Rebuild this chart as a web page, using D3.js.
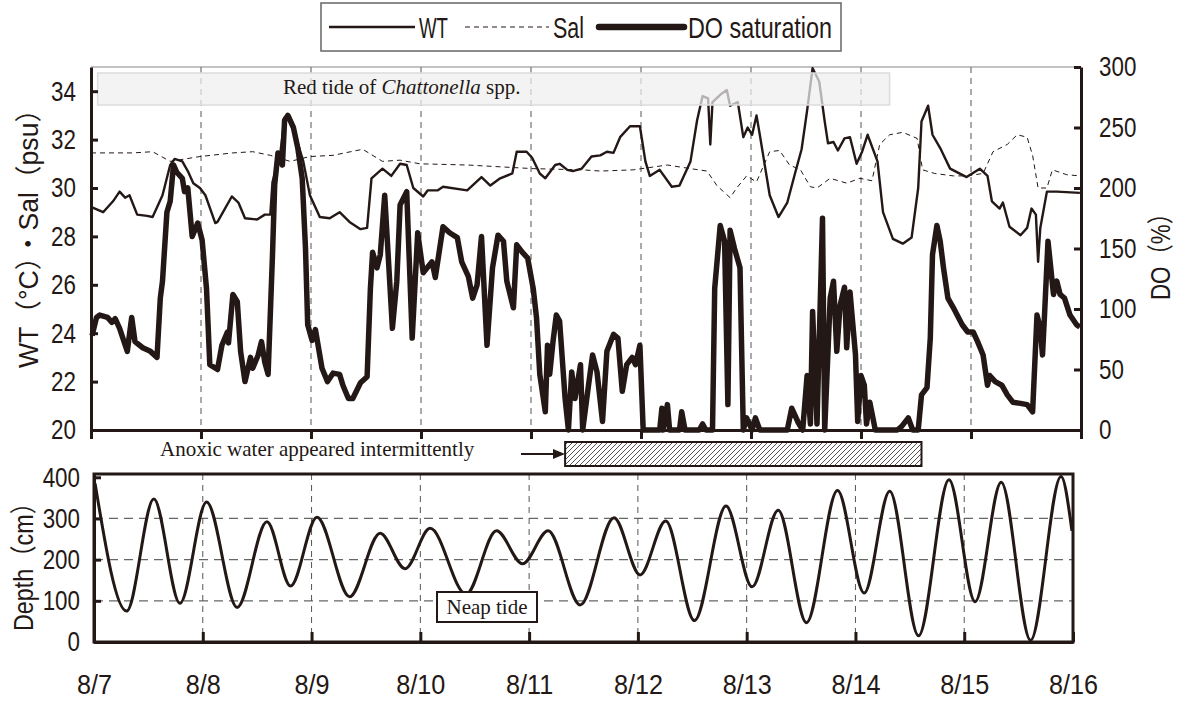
<!DOCTYPE html>
<html>
<head>
<meta charset="utf-8">
<script src="https://cdn.jsdelivr.net/npm/d3@7"></script>
<style>
  body { margin: 0; background: #fff; }
  svg { display: block; }
</style>
</head>
<body>
<div id="chart"></div>
<script>
// day labels (index 0 = 8/7 00:00)
const days = ['8/7', '8/8', '8/9', '8/10', '8/11', '8/12', '8/13', '8/14', '8/15', '8/16'];

// water temperature [day, degC]
const wtData = [
  [0.01, 29.2], [0.11, 29.0], [0.20, 29.45], [0.26, 29.85], [0.31, 29.6], [0.35, 29.7], [0.42, 28.9],
  [0.51, 28.85], [0.56, 28.8], [0.65, 29.7], [0.72, 30.95], [0.76, 31.2], [0.83, 31.1], [0.88, 30.7],
  [0.93, 30.2], [0.99, 30.0], [1.04, 29.7], [1.13, 28.55], [1.15, 28.6], [1.20, 29.0], [1.28, 29.65],
  [1.34, 29.4], [1.40, 28.75], [1.51, 28.7], [1.58, 28.9], [1.63, 28.9], [1.65, 30.25], [1.72, 31.4],
  [1.76, 32.9], [1.79, 33.0], [1.84, 32.5], [1.88, 31.85], [1.93, 31.1], [1.99, 29.7], [2.08, 28.8],
  [2.17, 28.75], [2.26, 29.0], [2.35, 28.6], [2.45, 28.3], [2.51, 28.35], [2.55, 30.4], [2.65, 30.8],
  [2.73, 30.5], [2.81, 31.0], [2.87, 30.95], [2.93, 30.0], [3.02, 29.65], [3.06, 29.9], [3.15, 29.9],
  [3.20, 30.05], [3.42, 29.9], [3.55, 30.45], [3.63, 30.1], [3.72, 30.4], [3.83, 30.6], [3.87, 31.5],
  [3.96, 31.5], [4.01, 31.25], [4.08, 30.6], [4.13, 30.4], [4.22, 30.95], [4.26, 31.0], [4.33, 30.75],
  [4.38, 30.7], [4.46, 30.8], [4.55, 31.3], [4.63, 31.35], [4.69, 31.5], [4.75, 31.45], [4.81, 32.1],
  [4.90, 32.55], [4.99, 32.55], [5.04, 31.1], [5.08, 30.5], [5.17, 30.75], [5.28, 30.05], [5.35, 30.1],
  [5.45, 31.1], [5.51, 32.8], [5.56, 33.8], [5.61, 33.7], [5.63, 31.8], [5.65, 33.55], [5.72, 33.85],
  [5.78, 34.05], [5.81, 33.4], [5.88, 33.55], [5.93, 32.1], [5.97, 32.5], [6.01, 32.2], [6.05, 33.0],
  [6.08, 32.2], [6.17, 29.7], [6.25, 28.8], [6.33, 29.4], [6.40, 30.6], [6.46, 31.6], [6.51, 33.2],
  [6.56, 34.95], [6.62, 34.4], [6.67, 32.75], [6.70, 31.85], [6.75, 31.9], [6.79, 31.55], [6.85, 32.05],
  [6.90, 32.1], [6.96, 31.0], [7.01, 31.5], [7.06, 32.2], [7.15, 31.1], [7.20, 29.0], [7.29, 27.9],
  [7.38, 27.7], [7.46, 27.95], [7.52, 30.0], [7.55, 32.75], [7.61, 33.4], [7.65, 32.2], [7.72, 31.65],
  [7.81, 30.8], [7.96, 30.45], [8.08, 30.8], [8.15, 30.5], [8.19, 29.45], [8.26, 29.15], [8.29, 29.4],
  [8.35, 28.4], [8.45, 28.05], [8.51, 28.35], [8.55, 29.15], [8.59, 28.9], [8.61, 26.95], [8.63, 28.35],
  [8.69, 29.85], [8.78, 29.85], [8.99, 29.8]
];

// salinity [day, psu]
const salData = [
  [0.0, 31.45], [0.38, 31.45], [0.56, 31.5], [0.72, 31.1], [0.99, 31.3], [1.29, 31.45], [1.47, 31.5],
  [1.63, 31.35], [1.81, 31.1], [1.99, 31.3], [2.20, 31.35], [2.47, 31.6], [2.65, 31.1], [2.81, 31.15],
  [2.99, 31.0], [3.42, 30.95], [4.02, 30.8], [4.47, 30.75], [4.63, 30.7], [4.93, 30.75], [5.24, 30.95],
  [5.45, 30.8], [5.60, 30.7], [5.69, 30.1], [5.81, 29.6], [5.87, 30.0], [5.96, 30.5], [6.05, 30.25],
  [6.17, 31.5], [6.26, 31.55], [6.35, 30.95], [6.45, 30.75], [6.54, 30.05], [6.60, 30.0], [6.72, 30.4],
  [6.87, 30.2], [6.99, 30.4], [7.10, 30.3], [7.17, 31.8], [7.26, 32.2], [7.38, 32.3], [7.51, 32.05],
  [7.56, 30.75], [7.67, 30.6], [7.84, 30.5], [7.96, 30.5], [8.11, 30.6], [8.20, 31.5], [8.33, 31.8],
  [8.42, 32.2], [8.51, 32.1], [8.56, 31.35], [8.61, 30.0], [8.69, 30.0], [8.74, 30.75], [8.87, 30.55],
  [8.99, 30.5]
];

// DO saturation [day, %]
const doData = [
  [0.01, 78], [0.05, 93], [0.08, 95], [0.15, 93], [0.19, 89], [0.22, 92], [0.26, 84], [0.33, 65],
  [0.37, 93], [0.40, 73], [0.47, 68], [0.54, 65], [0.60, 60], [0.63, 109], [0.65, 123], [0.69, 180],
  [0.72, 189], [0.75, 219], [0.78, 213], [0.83, 208], [0.85, 197], [0.88, 200], [0.92, 160], [0.97, 171],
  [1.01, 157], [1.05, 117], [1.08, 54], [1.15, 50], [1.19, 70], [1.24, 81], [1.25, 72], [1.29, 112],
  [1.33, 106], [1.36, 65], [1.40, 40], [1.45, 60], [1.47, 51], [1.52, 62], [1.55, 73], [1.58, 56],
  [1.61, 46], [1.65, 145], [1.67, 203], [1.70, 229], [1.74, 219], [1.76, 256], [1.79, 260], [1.84, 250],
  [1.88, 233], [1.92, 208], [1.95, 150], [1.97, 87], [2.01, 74], [2.04, 83], [2.10, 51], [2.15, 40],
  [2.20, 47], [2.26, 46], [2.29, 37], [2.34, 26], [2.38, 26], [2.45, 39], [2.51, 44], [2.54, 117],
  [2.56, 147], [2.60, 134], [2.63, 145], [2.67, 194], [2.70, 147], [2.74, 84], [2.78, 123], [2.81, 186],
  [2.87, 197], [2.92, 76], [2.97, 163], [3.02, 130], [3.10, 139], [3.13, 126], [3.20, 168], [3.26, 163],
  [3.33, 159], [3.37, 139], [3.43, 127], [3.47, 109], [3.51, 120], [3.55, 160], [3.60, 70], [3.65, 134],
  [3.70, 161], [3.75, 156], [3.78, 123], [3.84, 101], [3.87, 153], [3.92, 147], [3.97, 142], [4.02, 117],
  [4.05, 93], [4.08, 46], [4.13, 15], [4.15, 70], [4.17, 46], [4.20, 73], [4.23, 95], [4.26, 90],
  [4.31, 26], [4.34, 0], [4.37, 48], [4.40, 26], [4.45, 54], [4.47, 0], [4.52, 35], [4.56, 62],
  [4.60, 48], [4.65, 7], [4.69, 65], [4.75, 79], [4.79, 76], [4.83, 32], [4.87, 54], [4.92, 60],
  [4.95, 54], [4.99, 70], [5.02, 0], [5.17, 0], [5.19, 18], [5.20, 0], [5.24, 21], [5.26, 0],
  [5.35, 0], [5.37, 15], [5.40, 0], [5.53, 0], [5.56, 5], [5.59, 0], [5.65, 0], [5.67, 117],
  [5.72, 169], [5.76, 156], [5.79, 21], [5.81, 165], [5.85, 150], [5.90, 134], [5.93, 0], [5.96, 10],
  [6.01, 0], [6.04, 10], [6.08, 0], [6.33, 0], [6.37, 18], [6.43, 6], [6.47, 0], [6.51, 45],
  [6.54, 5], [6.56, 98], [6.60, 5], [6.65, 175], [6.67, 0], [6.72, 109], [6.75, 123], [6.78, 65],
  [6.81, 103], [6.85, 118], [6.87, 68], [6.90, 114], [6.95, 62], [6.97, 7], [7.00, 45], [7.03, 37],
  [7.05, 5], [7.08, 23], [7.13, 0], [7.33, 0], [7.37, 3], [7.43, 10], [7.47, 0], [7.52, 0],
  [7.55, 29], [7.60, 35], [7.63, 76], [7.65, 145], [7.69, 169], [7.72, 156], [7.75, 134], [7.79, 109],
  [7.84, 101], [7.92, 87], [7.97, 81], [8.02, 81], [8.06, 73], [8.11, 62], [8.15, 37], [8.17, 45],
  [8.22, 40], [8.28, 37], [8.33, 29], [8.38, 23], [8.45, 22], [8.51, 21], [8.56, 15], [8.60, 95],
  [8.63, 84], [8.65, 62], [8.67, 98], [8.70, 156], [8.75, 112], [8.78, 123], [8.81, 112], [8.85, 109],
  [8.90, 95], [8.96, 87], [8.99, 85]
];

// tide level, high and low waters [day, cm]
const depthData = [
  [0.01, 385], [0.30, 75], [0.55, 347], [0.79, 94], [1.035, 340], [1.316, 84], [1.59, 292], [1.807, 136],
  [2.05, 303], [2.35, 110], [2.63, 264], [2.86, 178], [3.09, 276], [3.42, 116], [3.70, 270], [3.94, 190],
  [4.175, 270], [4.47, 90], [4.78, 302], [5.02, 163], [5.256, 294], [5.52, 52], [5.81, 330], [6.05, 134],
  [6.29, 320], [6.55, 47], [6.835, 368], [7.08, 119], [7.315, 366], [7.58, 15], [7.86, 394], [8.10, 98],
  [8.34, 388], [8.61, 4], [8.89, 402], [8.99, 270]
];

const wtTicks = [20, 22, 24, 26, 28, 30, 32, 34];
const doTicks = [0, 50, 100, 150, 200, 250, 300];
const depthTicks = [0, 100, 200, 300, 400];
const redTideSpan = [0.06, 7.26];
const anoxicSpan = [4.31, 7.55];

const width = 1179;
const height = 701;
const ink = '#231815';
const sans = '"Liberation Sans", Arial, "Noto Sans CJK JP", sans-serif';
const serif = '"Liberation Serif", "Times New Roman", serif';

const svg = d3.select('#chart').append('svg')
    .attr('width', width)
    .attr('height', height);

const defs = svg.append('defs');
const hatch = defs.append('pattern')
    .attr('id', 'hatch')
    .attr('patternUnits', 'userSpaceOnUse')
    .attr('width', 5)
    .attr('height', 5);
hatch.append('rect').attr('width', 5).attr('height', 5).attr('fill', '#fff');
hatch.append('path')
    .attr('d', 'M-1,1 l2,-2 M0,5 l5,-5 M4,6 l2,-2')
    .attr('stroke', '#555')
    .attr('stroke-width', 1);

// axis styling; tick labels squeezed horizontally to get a condensed face
const styleAxis = (g, squeeze) => {
    g.select('.domain').attr('stroke', ink).attr('stroke-width', 3);
    g.selectAll('.tick line').attr('stroke', ink).attr('stroke-width', 3);
    g.selectAll('.tick text')
        .attr('fill', ink)
        .style('font-family', sans)
        .style('font-size', '28px')
        .each(function () {
            const t = d3.select(this);
            const x0 = +t.attr('x') || 0;
            t.attr('x', x0 / squeeze).attr('transform', `scale(${squeeze},1)`);
        });
};

// ---------- top panel ----------
const x = d3.scaleLinear().domain([0, 9]).range([91, 1081]);
const yL = d3.scaleLinear().domain([20, 35]).range([430, 67]);
const yR = d3.scaleLinear().domain([0, 300]).range([430, 67]);

const topPanel = svg.append('g');

// day grid
topPanel.selectAll('.vgrid')
    .data(d3.range(1, 9))
    .enter().append('line')
    .attr('x1', d => x(d)).attr('x2', d => x(d))
    .attr('y1', yL(35)).attr('y2', yL(20))
    .attr('stroke', '#555')
    .attr('stroke-width', 1)
    .attr('stroke-dasharray', '6,5');

// thin top border
topPanel.append('line')
    .attr('x1', x(0)).attr('x2', x(9))
    .attr('y1', yL(35)).attr('y2', yL(35))
    .attr('stroke', '#888')
    .attr('stroke-width', 1.2);

const lineL = d3.line().x(d => x(d[0])).y(d => yL(d[1]));
const lineR = d3.line().x(d => x(d[0])).y(d => yR(d[1]));

topPanel.append('path')
    .datum(salData)
    .attr('d', lineL)
    .attr('fill', 'none')
    .attr('stroke', ink)
    .attr('stroke-width', 1)
    .attr('stroke-dasharray', '5,4');

topPanel.append('path')
    .datum(doData)
    .attr('d', lineR)
    .attr('fill', 'none')
    .attr('stroke', ink)
    .attr('stroke-width', 5.5)
    .attr('stroke-linejoin', 'round');

topPanel.append('path')
    .datum(wtData)
    .attr('d', lineL)
    .attr('fill', 'none')
    .attr('stroke', ink)
    .attr('stroke-width', 2.4)
    .attr('stroke-linejoin', 'round');

// red tide band, laid over the lines
topPanel.append('rect')
    .attr('x', x(redTideSpan[0]))
    .attr('y', 73)
    .attr('width', x(redTideSpan[1]) - x(redTideSpan[0]))
    .attr('height', 32)
    .attr('fill', '#eeeeee')
    .attr('fill-opacity', 0.72)
    .attr('stroke', '#dcdcdc')
    .attr('stroke-width', 1.5);

const rt = topPanel.append('text')
    .attr('x', 283)
    .attr('y', 94)
    .attr('font-family', serif)
    .attr('font-size', 21)
    .attr('fill', ink);
rt.append('tspan').text('Red tide of ');
rt.append('tspan').attr('font-style', 'italic').text('Chattonella');
rt.append('tspan').text(' spp.');

topPanel.append('g')
    .attr('transform', `translate(${x(0)},0)`)
    .call(d3.axisLeft(yL).tickValues(wtTicks).tickSize(-7).tickSizeOuter(0).tickPadding(15))
    .call(g => styleAxis(g, 0.8));

topPanel.append('g')
    .attr('transform', `translate(${x(9)},0)`)
    .call(d3.axisRight(yR).tickValues(doTicks).tickSize(-7).tickSizeOuter(0).tickPadding(18))
    .call(g => styleAxis(g, 0.8));

topPanel.append('g')
    .attr('transform', `translate(0,${yL(20)})`)
    .call(d3.axisBottom(x).tickValues(d3.range(0, 10)).tickSize(9).tickSizeOuter(0).tickFormat(''))
    .call(g => styleAxis(g, 1));

const title = (g, tx, ty, len, label) => g.append('text')
    .attr('transform', `translate(${tx},${ty}) rotate(-90)`)
    .attr('text-anchor', 'middle')
    .attr('font-family', sans)
    .attr('font-size', 27)
    .attr('textLength', len)
    .attr('lengthAdjust', 'spacingAndGlyphs')
    .attr('fill', ink)
    .text(label);

title(topPanel, 38, 232, 272, 'WT（°C）・Sal（psu）');
title(topPanel, 1170, 251, 98, 'DO（%）');

// ---------- anoxic annotation ----------
svg.append('text')
    .attr('x', 160)
    .attr('y', 456)
    .attr('font-family', serif)
    .attr('font-size', 21)
    .attr('fill', ink)
    .text('Anoxic water appeared intermittently');

svg.append('line')
    .attr('x1', 521).attr('x2', 556)
    .attr('y1', 454).attr('y2', 454)
    .attr('stroke', ink)
    .attr('stroke-width', 2);
svg.append('path')
    .attr('d', 'M553,449 L565,454 L553,459 Z')
    .attr('fill', ink);

svg.append('rect')
    .attr('x', x(anoxicSpan[0]))
    .attr('y', 442)
    .attr('width', x(anoxicSpan[1]) - x(anoxicSpan[0]))
    .attr('height', 24)
    .attr('fill', 'url(#hatch)')
    .attr('stroke', ink)
    .attr('stroke-width', 2);

// ---------- bottom panel ----------
const xb = d3.scaleLinear().domain([0, 9]).range([94, 1073]);
const yD = d3.scaleLinear().domain([0, 408]).range([642, 474]);

const bot = svg.append('g');

bot.selectAll('.hgrid')
    .data([100, 200, 300])
    .enter().append('line')
    .attr('x1', xb(0)).attr('x2', xb(9))
    .attr('y1', d => yD(d)).attr('y2', d => yD(d))
    .attr('stroke', '#666')
    .attr('stroke-width', 1.2)
    .attr('stroke-dasharray', '9,6');

bot.selectAll('.vgrid')
    .data(d3.range(1, 9))
    .enter().append('line')
    .attr('x1', d => xb(d)).attr('x2', d => xb(d))
    .attr('y1', yD(408)).attr('y2', yD(0))
    .attr('stroke', '#555')
    .attr('stroke-width', 1)
    .attr('stroke-dasharray', '6,5');

bot.append('path')
    .datum(depthData)
    .attr('d', d3.line().x(d => xb(d[0])).y(d => yD(d[1])).curve(d3.curveMonotoneX))
    .attr('fill', 'none')
    .attr('stroke', ink)
    .attr('stroke-width', 3);

bot.append('g')
    .attr('transform', `translate(${xb(0)},0)`)
    .call(d3.axisLeft(yD).tickValues(depthTicks).tickSize(-7).tickSizeOuter(0).tickPadding(14))
    .call(g => styleAxis(g, 0.8));

bot.append('g')
    .attr('transform', `translate(0,${yD(0)})`)
    .call(d3.axisBottom(xb).tickValues(d3.range(0, 10)).tickSize(-10).tickSizeOuter(0).tickPadding(32)
        .tickFormat(d => days[d]))
    .call(g => styleAxis(g, 0.9));

bot.append('rect')
    .attr('x', xb(0))
    .attr('y', yD(408))
    .attr('width', xb(9) - xb(0))
    .attr('height', yD(0) - yD(408))
    .attr('fill', 'none')
    .attr('stroke', ink)
    .attr('stroke-width', 3);

title(bot, 33, 561, 140, 'Depth（cm）');

// neap tide label
bot.append('rect')
    .attr('x', 437).attr('y', 592)
    .attr('width', 100).attr('height', 30)
    .attr('fill', '#fff')
    .attr('stroke', ink)
    .attr('stroke-width', 2);
bot.append('text')
    .attr('x', 487).attr('y', 614)
    .attr('text-anchor', 'middle')
    .attr('font-family', serif)
    .attr('font-size', 21)
    .attr('fill', ink)
    .text('Neap tide');

// ---------- legend ----------
const legend = svg.append('g');
legend.append('rect')
    .attr('x', 321).attr('y', 3)
    .attr('width', 520).attr('height', 48)
    .attr('fill', '#fff')
    .attr('stroke', '#666')
    .attr('stroke-width', 1.5);

const legendItems = [
    { label: 'WT', x1: 329, x2: 415, w: 2.4, dash: null, len: 29 },
    { label: 'Sal', x1: 465, x2: 549, w: 1, dash: '5,4', len: 31 },
    { label: 'DO saturation', x1: 599, x2: 684, w: 6.5, dash: null, len: 144 }
];
legendItems.forEach(item => {
    legend.append('line')
        .attr('x1', item.x1).attr('x2', item.x2)
        .attr('y1', 27).attr('y2', 27)
        .attr('stroke', ink)
        .attr('stroke-width', item.w)
        .attr('stroke-linecap', item.w > 3 ? 'round' : 'butt')
        .attr('stroke-dasharray', item.dash);
    legend.append('text')
        .attr('x', item.x2 + 4)
        .attr('y', 38)
        .attr('font-family', sans)
        .attr('font-size', 30)
        .attr('textLength', item.len)
        .attr('lengthAdjust', 'spacingAndGlyphs')
        .attr('fill', ink)
        .text(item.label);
});
</script>
</body>
</html>
